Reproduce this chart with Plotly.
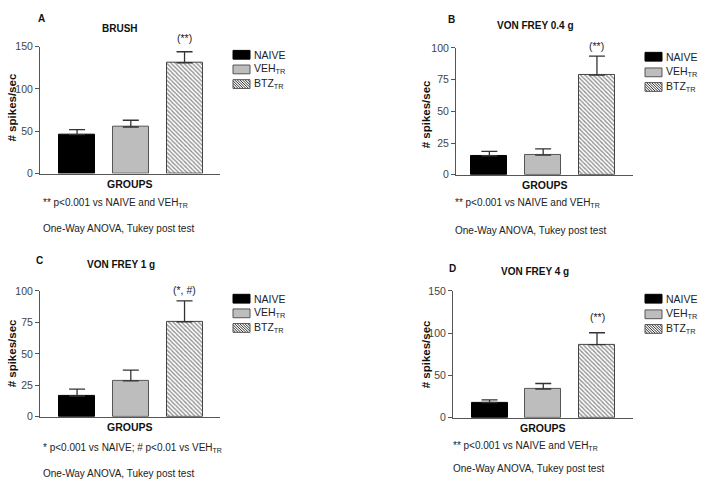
import plotly.graph_objects as go

W, H = 701, 493
def fx(px): return px / W
def fy(px): return 1 - px / H

groups = ["NAIVE", "VEH<sub>TR</sub>", "BTZ<sub>TR</sub>"]
panel_letters = ["A", "B", "C", "D"]
panel_titles = ["BRUSH", "VON FREY 0.4 g", "VON FREY 1 g", "VON FREY 4 g"]
means_A = [46, 55, 131]
sem_A = [6, 8, 13]
means_B = [15, 15.5, 78.5]
sem_B = [3.5, 5, 15]
means_C = [16.5, 28.5, 75.5]
sem_C = [5.5, 8.5, 16.5]
means_D = [18, 34, 86.5]
sem_D = [3, 6.5, 14]
sig_labels = ["(**)", "(**)", "(*, #)", "(**)"]
y_max = [150, 100, 100, 150]
y_dtick = [50, 25, 25, 50]
footnotes = ["** p<0.001 vs NAIVE and VEH<sub>TR</sub>",
             "** p<0.001 vs NAIVE and VEH<sub>TR</sub>",
             "* p<0.001 vs NAIVE; # p<0.01 vs VEH<sub>TR</sub>",
             "** p<0.001 vs NAIVE and VEH<sub>TR</sub>"]
method_text = "One-Way ANOVA, Tukey post test"

means = [means_A, means_B, means_C, means_D]
sems = [sem_A, sem_B, sem_C, sem_D]

# layout (pixels)
x_dom = [(40, 220), (456, 633), (40, 220), (453, 633)]
y_dom = [(41.7, 171.7), (43, 173), (292, 421), (292, 422)]
x_rng = [(-0.69, 2.66), (-0.62, 2.67), (-0.69, 2.66), (-0.68, 2.67)]
leg_x = [233, 645, 233, 645]
leg_rows = [(50, 65, 80), (52, 68, 83), (300, 315, 330), (300, 316, 331)]
title_pos = [(120, 23), (535, 20), (121, 265), (535, 272)]
letter_pos = [(36, 13), (446, 14), (34, 261), (447, 269)]
ylab_pos = [(12, 104), (426, 111), (12, 356), (426, 357)]
groups_y = [182, 183, 432, 433]
foot_pos = [(41, 202), (453, 202), (41, 453), (451, 451)]
meth_y = [228, 230, 479, 474]
sig_shift = [6, 2, 3, 8]

FONT = "Liberation Sans, Arial, sans-serif"
TXT = "#222222"
fills = ["#000000", "#bdbdbd", "white"]
lines = ["#000000", "#555555", "#444444"]
patterns = [dict(shape=""), dict(shape=""),
            dict(shape="\\", size=3, solidity=0.45, fgcolor="#222222", bgcolor="white")]

fig = go.Figure()
annotations = []
shapes = []

def hatch_path(x0, x1, y0, y1, step=2.6):
    # "\" diagonal lines inside pixel box, returned as an SVG path in paper coords
    h = y1 - y0
    segs = []
    c = x0 - h
    while c < x1:
        t0 = max(0.0, x0 - c)
        t1 = min(h, x1 - c)
        if t1 > t0:
            segs.append("M%.5f,%.5f L%.5f,%.5f" % (fx(c + t0), fy(y0 + t0), fx(c + t1), fy(y0 + t1)))
        c += step
    return " ".join(segs)

for p in range(4):
    ax = "" if p == 0 else str(p + 1)
    for g in range(3):
        fig.add_trace(go.Bar(
            x=[g], y=[means[p][g]], name=groups[g], width=0.67,
            xaxis="x" + ax, yaxis="y" + ax, showlegend=False,
            marker=dict(color=fills[g], line=dict(color=lines[g], width=1),
                        pattern=patterns[g]),
            error_y=dict(type="data", array=[sems[p][g]], arrayminus=[0],
                         symmetric=False, color="#333333", thickness=1.3, width=8),
        ))
    # significance label
    annotations.append(dict(x=2, y=means[p][2] + sems[p][2], xref="x" + ax, yref="y" + ax,
                            text=sig_labels[p], showarrow=False, xanchor="center", yanchor="bottom",
                            yshift=sig_shift[p], font=dict(size=10.5, color=TXT)))
    tx, ty = title_pos[p]
    annotations.append(dict(x=fx(tx), y=fy(ty), xref="paper", yref="paper", text="<b>" + panel_titles[p] + "</b>",
                            showarrow=False, xanchor="center", yanchor="middle", font=dict(size=10, color="#111")))
    lx, ly = letter_pos[p]
    annotations.append(dict(x=fx(lx), y=fy(ly), xref="paper", yref="paper", text="<b>" + panel_letters[p] + "</b>",
                            showarrow=False, xanchor="left", yanchor="middle", font=dict(size=10, color="#111")))
    yx, yy = ylab_pos[p]
    annotations.append(dict(x=fx(yx), y=fy(yy), xref="paper", yref="paper", text="<b># spikes/sec</b>",
                            showarrow=False, textangle=-90, xanchor="center", yanchor="middle",
                            font=dict(size=11.5, color="#111")))
    xc = (x_dom[p][0] + x_dom[p][1]) / 2
    annotations.append(dict(x=fx(xc), y=fy(groups_y[p]), xref="paper", yref="paper", text="<b>GROUPS</b>",
                            showarrow=False, xanchor="center", yanchor="middle", font=dict(size=10.5, color="#111")))
    fxp, fyp = foot_pos[p]
    annotations.append(dict(x=fx(fxp), y=fy(fyp), xref="paper", yref="paper", text=footnotes[p],
                            showarrow=False, xanchor="left", yanchor="middle", font=dict(size=10, color=TXT)))
    annotations.append(dict(x=fx(fxp), y=fy(meth_y[p]), xref="paper", yref="paper", text=method_text,
                            showarrow=False, xanchor="left", yanchor="middle", font=dict(size=10, color=TXT)))

    # legend (manual)
    sx0 = leg_x[p]
    sx1 = sx0 + 17
    for g in range(3):
        cy = leg_rows[p][g]
        y0, y1 = cy - 4.5, cy + 4.5
        if g == 2:
            shapes.append(dict(type="path", xref="paper", yref="paper",
                               path=hatch_path(sx0, sx1, y0, y1), line=dict(color="#333", width=1)))
            shapes.append(dict(type="rect", xref="paper", yref="paper", x0=fx(sx0), x1=fx(sx1),
                               y0=fy(y1), y1=fy(y0), line=dict(color="#555", width=1)))
        else:
            shapes.append(dict(type="rect", xref="paper", yref="paper", x0=fx(sx0), x1=fx(sx1),
                               y0=fy(y1), y1=fy(y0), fillcolor=fills[g], line=dict(color=lines[g], width=1)))
        annotations.append(dict(x=fx(sx1 + 1.5), y=fy(cy), xref="paper", yref="paper", text=groups[g],
                                showarrow=False, xanchor="left", yanchor="middle", font=dict(size=10.5, color=TXT)))

    xa = dict(domain=[fx(x_dom[p][0]), fx(x_dom[p][1])], range=list(x_rng[p]),
              showticklabels=False, ticks="", showgrid=False, zeroline=False,
              showline=True, linecolor="#555", linewidth=1, anchor="y" + ax)
    ya = dict(domain=[fy(y_dom[p][1]), fy(y_dom[p][0])], range=[0, y_max[p]],
              dtick=y_dtick[p], ticks="outside", ticklen=4, tickcolor="#555",
              showgrid=False, zeroline=False, showline=True, linecolor="#555", linewidth=1,
              tickfont=dict(size=10.5, color="#444"), anchor="x" + ax)
    fig.layout["xaxis" + ax] = xa
    fig.layout["yaxis" + ax] = ya

fig.update_layout(width=W, height=H, autosize=False, margin=dict(l=0, r=0, t=0, b=0),
                  paper_bgcolor="white", plot_bgcolor="white", showlegend=False,
                  font=dict(family=FONT), annotations=annotations, shapes=shapes, bargap=0)
fig.write_html("out.html", config={"displayModeBar": False},
               post_script="document.body.style.margin='0px';")
